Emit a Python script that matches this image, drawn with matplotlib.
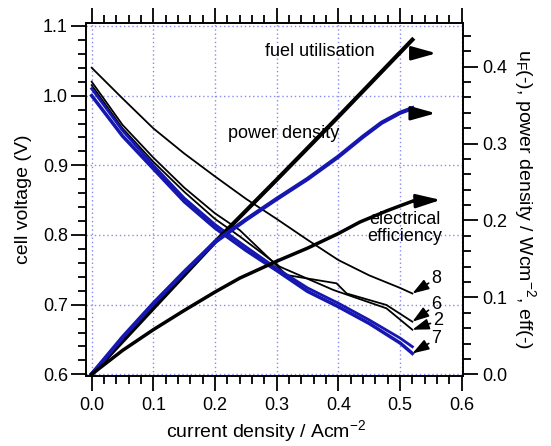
import matplotlib
matplotlib.use("Agg")
import matplotlib.pyplot as plt
from matplotlib.ticker import MultipleLocator

plt.rcParams['font.family'] = ['Liberation Sans', 'DejaVu Sans']
plt.rcParams['mathtext.fontset'] = 'custom'
plt.rcParams['mathtext.rm'] = 'Liberation Sans'
plt.rcParams['mathtext.it'] = 'Liberation Sans:italic'
plt.rcParams['font.size'] = 13

BLUE = '#1616b0'

# cell voltage curves (left axis)
i_8 = [0, 0.05, 0.1, 0.15, 0.2, 0.25, 0.3, 0.35, 0.4, 0.45, 0.5, 0.52]
v_8 = [1.04, 0.996, 0.953, 0.917, 0.884, 0.852, 0.823, 0.793, 0.764, 0.742, 0.724, 0.716]

i_6 = [0, 0.05, 0.1, 0.15, 0.2, 0.24, 0.28, 0.316, 0.397, 0.4135, 0.478, 0.52]
v_6 = [1.02, 0.958, 0.911, 0.868, 0.831, 0.807, 0.773, 0.7425, 0.7306, 0.716, 0.6995, 0.6755]

i_2 = [0, 0.05, 0.1, 0.15, 0.2, 0.24, 0.305, 0.392, 0.478, 0.52]
v_2 = [1.015, 0.953, 0.905, 0.862, 0.823, 0.798, 0.7545, 0.721, 0.6947, 0.664]

i_b = [0, 0.05, 0.1, 0.15, 0.2, 0.25, 0.3, 0.35, 0.4, 0.45, 0.5, 0.52]
v_b1 = [1.01, 0.95, 0.90, 0.853, 0.815, 0.783, 0.752, 0.724, 0.702, 0.678, 0.652, 0.6396]
v_7 = [1.0, 0.942, 0.895, 0.848, 0.81, 0.778, 0.749, 0.719, 0.697, 0.673, 0.645, 0.630]

# right axis curves
i_fu = [0, 0.1, 0.2, 0.3, 0.4, 0.52]
fuel_util = [0, 0.086, 0.172, 0.253, 0.335, 0.435]

i_pd = [0, 0.05, 0.1, 0.15, 0.2, 0.25, 0.3, 0.35, 0.4, 0.44, 0.47, 0.5, 0.52]
power_dens = [0, 0.048, 0.092, 0.133, 0.172, 0.201, 0.228, 0.254, 0.283, 0.309, 0.327, 0.34, 0.346]

i_ef = [0, 0.05, 0.1, 0.15, 0.2, 0.24, 0.3, 0.35, 0.4, 0.435, 0.48, 0.52]
elec_eff = [0, 0.031, 0.058, 0.083, 0.107, 0.125, 0.147, 0.164, 0.183, 0.198, 0.213, 0.225]

curve_labels = ['8', '6', '2', '7']
label_pos = [(0.559, 0.738), (0.559, 0.700), (0.562, 0.677), (0.559, 0.651)]

fig = plt.figure(figsize=(5.51, 4.46), dpi=100)
ax = fig.add_axes([0.1561, 0.157, 0.6833, 0.7915])
ax2 = ax.twinx()

ax.set_xlim(-0.0092, 0.6013)
ax.set_ylim(0.5976, 1.1043)
ax2.set_ylim(-0.0022, 0.4568)

ax.set_xticks([0, 0.1, 0.2, 0.3, 0.4, 0.5, 0.6])
ax.set_yticks([0.6, 0.7, 0.8, 0.9, 1.0, 1.1])
ax2.set_yticks([0.0, 0.1, 0.2, 0.3, 0.4])
ax.xaxis.set_minor_locator(MultipleLocator(0.02))
ax.yaxis.set_minor_locator(MultipleLocator(0.02))
ax2.yaxis.set_minor_locator(MultipleLocator(0.02))
ax.xaxis.set_major_formatter(plt.FormatStrFormatter('%.1f'))
ax.yaxis.set_major_formatter(plt.FormatStrFormatter('%.1f'))
ax2.yaxis.set_major_formatter(plt.FormatStrFormatter('%.1f'))

ax.grid(True, color='#8a8aee', linestyle=(0, (1, 2)), linewidth=1.0)

ax.tick_params(axis='x', which='both', direction='out', top=True, labeltop=False, width=1.3, pad=4)
ax.tick_params(axis='y', which='both', direction='out', right=False, width=1.3, pad=2)
ax2.tick_params(axis='y', which='both', direction='out', width=1.3, pad=3)
for a in (ax, ax2):
    a.tick_params(which='major', length=11)
    a.tick_params(which='minor', length=5.5)
    for s in a.spines.values():
        s.set_linewidth(1.2)

ax.plot(i_8, v_8, color='black', lw=1.3)
ax.plot(i_6, v_6, color='black', lw=1.3)
ax.plot(i_2, v_2, color='black', lw=1.3)
ax.plot(i_b, v_b1, color=BLUE, lw=2.0)
ax.plot(i_b, v_7, color=BLUE, lw=2.5)

ax2.plot(i_fu, fuel_util, color='black', lw=3.0)
ax2.plot(i_pd, power_dens, color=BLUE, lw=3.0)
ax2.plot(i_ef, elec_eff, color='black', lw=2.5)

big_arrow = dict(arrowstyle='-|>,head_length=1.5,head_width=0.42', color='black', lw=2.0,
                 mutation_scale=10, shrinkA=0, shrinkB=0)
ax2.annotate('', xy=(0.559, 0.4174), xytext=(0.521, 0.4174), arrowprops=big_arrow)
ax2.annotate('', xy=(0.558, 0.3394), xytext=(0.519, 0.3394), arrowprops=big_arrow)
ax2.annotate('', xy=(0.566, 0.2267), xytext=(0.52, 0.2250), arrowprops=big_arrow)

small_arrow = dict(arrowstyle='-|>,head_length=1.0,head_width=0.33', color='black', lw=1.2,
                   mutation_scale=10, shrinkA=0, shrinkB=0)
ends = [(i_8[-1], v_8[-1]), (i_6[-1], v_6[-1]), (i_2[-1], v_2[-1]), (i_b[-1], v_7[-1])]
for lab, pos, end in zip(curve_labels, label_pos, ends):
    ax.annotate(lab, xy=end, xytext=pos, ha='center', va='center', fontsize=13,
                arrowprops=small_arrow)

ax.text(0.370, 1.063, 'fuel utilisation', ha='center', va='center', fontsize=13)
ax.text(0.312, 0.946, 'power density', ha='center', va='center', fontsize=13)
ax.text(0.508, 0.810, 'electrical\nefficiency', ha='center', va='center', fontsize=13,
        linespacing=0.95)

ax.set_xlabel('current density / Acm$^{-2}$', fontsize=14)
ax.xaxis.set_label_coords(0.477, -0.12)
ax.set_ylabel('cell voltage (V)', fontsize=14, labelpad=8)
ax2.set_ylabel('u$_\\mathrm{F}$(-), power density / Wcm$^{-2}$, eff(-)', fontsize=14,
               rotation=270, labelpad=22)

fig.savefig('out.png', dpi=100)
